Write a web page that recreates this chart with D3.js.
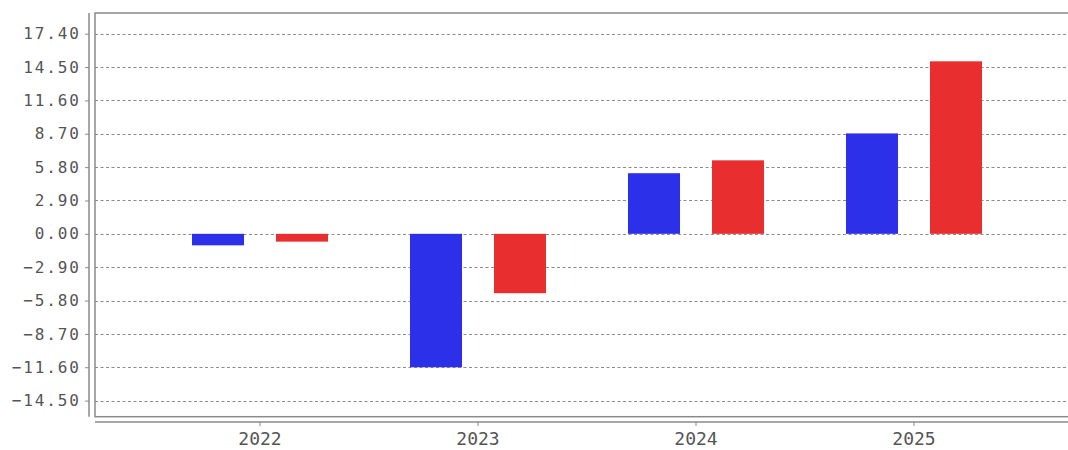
<!DOCTYPE html>
<html>
<head>
<meta charset="utf-8">
<script src="https://cdn.jsdelivr.net/npm/d3@7/dist/d3.min.js"></script>
<style>
  html, body { margin: 0; padding: 0; background: #fff; }
  svg { display: block; }
</style>
</head>
<body>
<svg id="chart" width="1068" height="450"></svg>
<script>
const categories = ["2022", "2023", "2024", "2025"];
const seriesNames = ["A", "B"];
const seriesA = [-1.0, -11.6, 5.27, 8.73];
const seriesB = [-0.68, -5.16, 6.39, 15.0];
const yTicks = [17.4, 14.5, 11.6, 8.7, 5.8, 2.9, 0, -2.9, -5.8, -8.7, -11.6, -14.5];
const colors = ["#2c30e8", "#e82e2e"];

const svg = d3.select("#chart");
const W = 1068, H = 450;
const frame = { left: 95, top: 13, right: 1075, bottom: 416.7 };

const y = d3.scaleLinear().domain([-15.9, 19.2]).range([frame.bottom, frame.top]);
const x = d3.scaleBand().domain(categories).range([151, 1023]).padding(0);
const xInner = d3.scaleBand().domain(seriesNames).range([-68, 68]).paddingInner(0.381).paddingOuter(0);

const textColor = "#555";
const lineColor = "#8a8a8a";

// gridlines
svg.append("g").selectAll("line").data(yTicks).join("line")
  .attr("x1", frame.left).attr("x2", W)
  .attr("y1", d => Math.round(y(d)) + 0.5).attr("y2", d => Math.round(y(d)) + 0.5)
  .attr("stroke", "#8c8c8c").attr("stroke-width", 1)
  .attr("stroke-dasharray", "3,2.5");

// bars
const data = [];
categories.forEach((c, i) => {
  data.push({ cat: c, s: "A", v: seriesA[i], color: colors[0] });
  data.push({ cat: c, s: "B", v: seriesB[i], color: colors[1] });
});
svg.append("g").selectAll("rect").data(data).join("rect")
  .attr("x", d => x(d.cat) + x.bandwidth() / 2 + xInner(d.s))
  .attr("width", xInner.bandwidth())
  .attr("y", d => Math.min(y(0), y(d.v)))
  .attr("height", d => Math.abs(y(d.v) - y(0)))
  .attr("fill", d => d.color);

// frame (plot border)
svg.append("rect")
  .attr("x", frame.left).attr("y", frame.top)
  .attr("width", frame.right - frame.left).attr("height", frame.bottom - frame.top)
  .attr("fill", "none").attr("stroke", lineColor).attr("stroke-width", 1.5);

// y axis
const yAxis = d3.axisLeft(y).tickValues(yTicks).tickSize(4).tickPadding(6)
  .tickFormat(d3.format(".2f"));
const gy = svg.append("g").attr("transform", "translate(89,0)").call(yAxis);
gy.select(".domain").attr("d", `M0,${frame.top}V${frame.bottom}`).attr("stroke", lineColor).attr("stroke-width", 1.5);
gy.selectAll(".tick line").attr("stroke", lineColor);
gy.selectAll(".tick text")
  .attr("fill", textColor)
  .style("font-family", "'DejaVu Sans Mono', monospace")
  .style("font-size", "16px")
  .style("letter-spacing", "1.9px")
  .attr("dx", "1.9px")
  .text(d => d3.format(".2f")(d).replace("-", "\u2212"));

// x axis
const xAxis = d3.axisBottom(x).tickSize(4).tickPadding(6).tickSizeOuter(0);
const gx = svg.append("g").attr("transform", "translate(0,422)").call(xAxis);
gx.select(".domain").attr("d", `M${frame.left},0H${W}`).attr("stroke", lineColor).attr("stroke-width", 1.5);
gx.selectAll(".tick line").attr("stroke", lineColor);
gx.selectAll(".tick text")
  .attr("fill", textColor)
  .style("font-family", "'DejaVu Sans Mono', monospace")
  .style("font-size", "18px");
</script>
</body>
</html>
